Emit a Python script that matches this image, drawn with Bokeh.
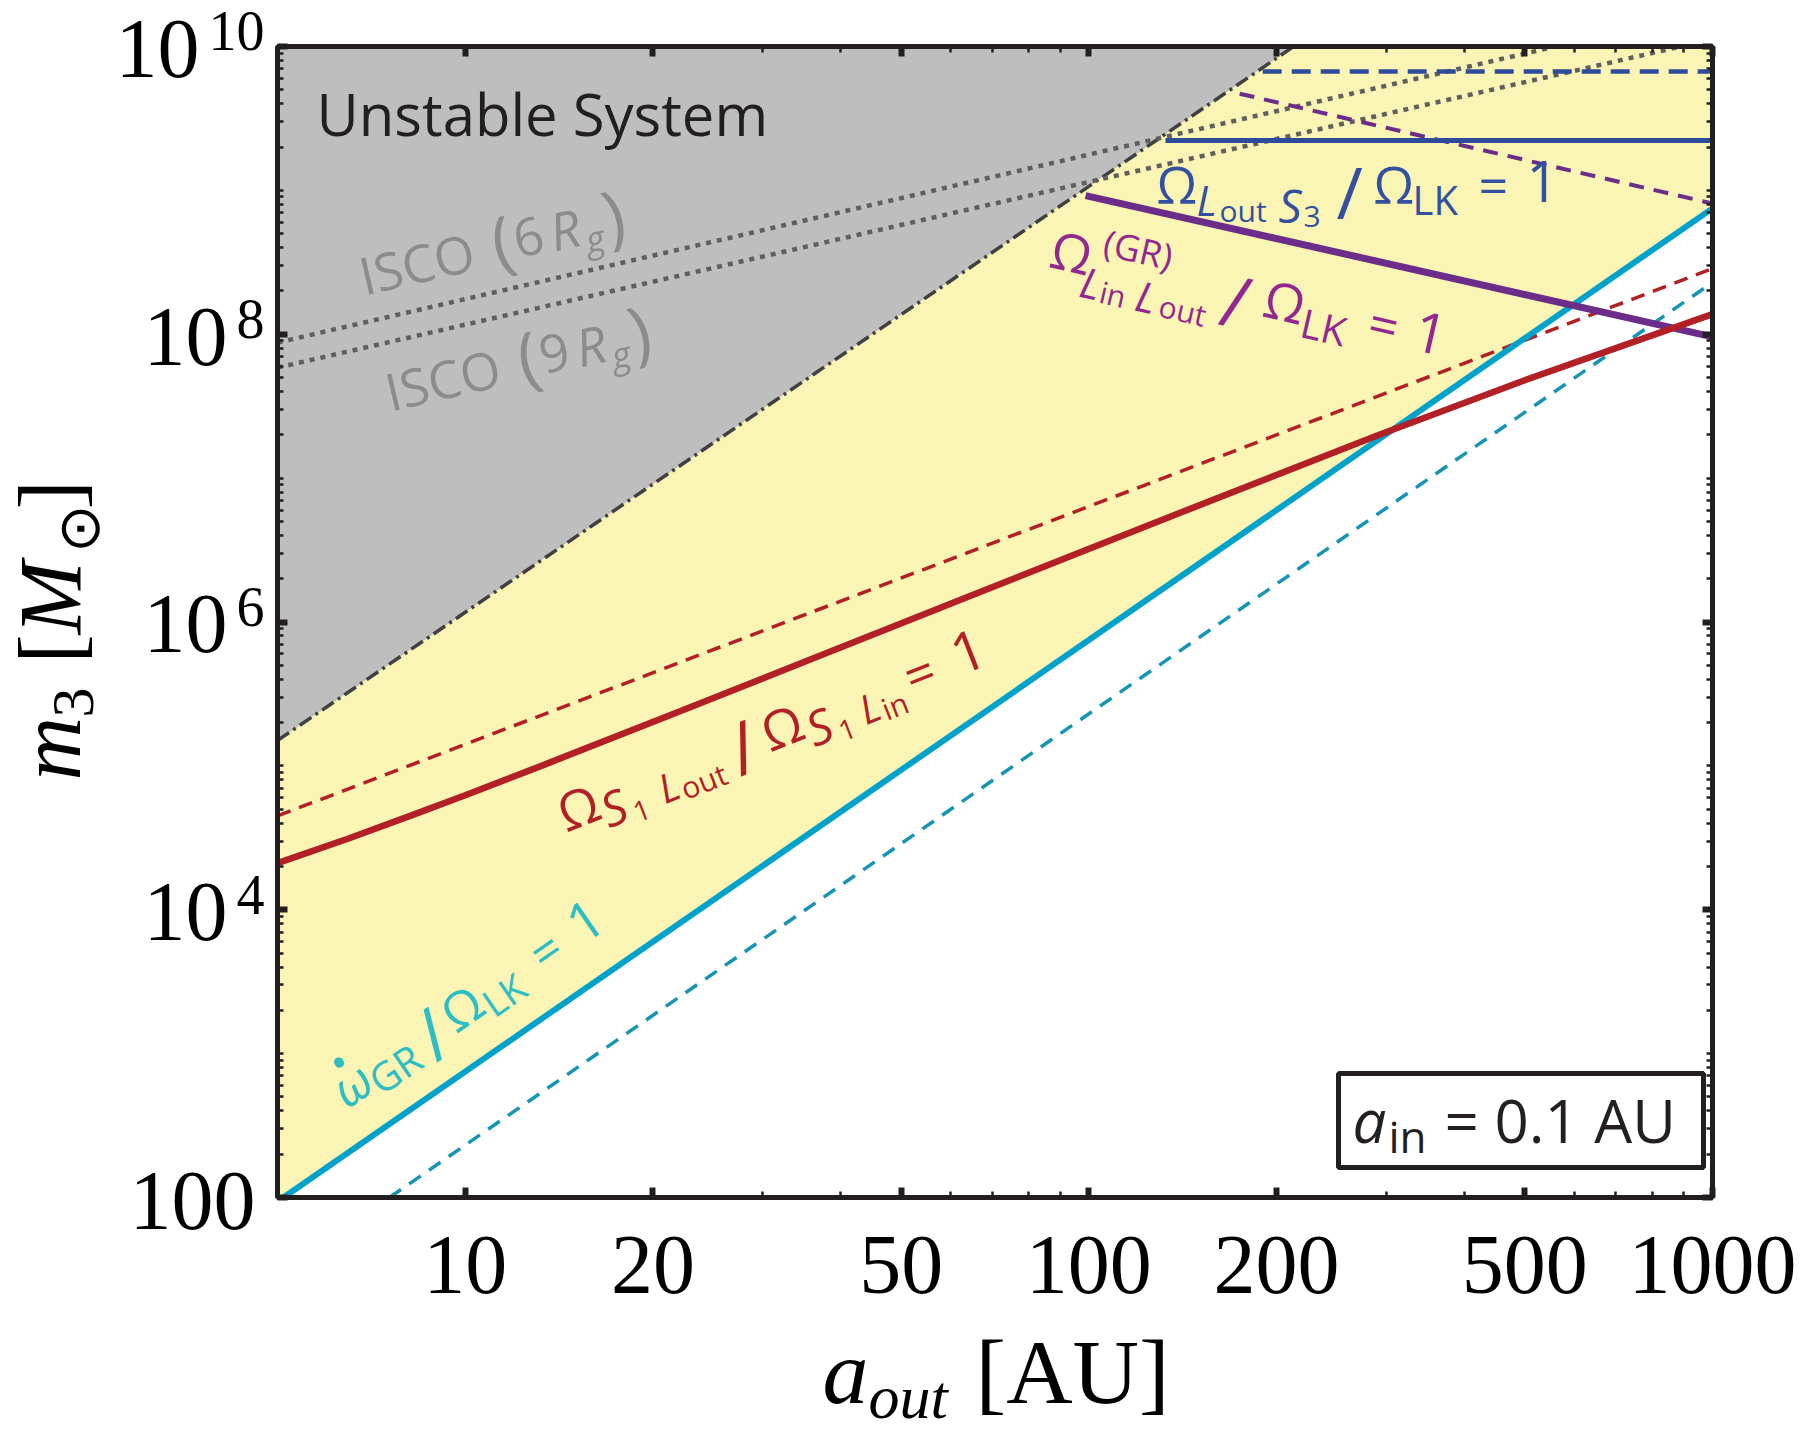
import math
from bokeh.plotting import figure
from bokeh.models import Range1d, LogAxis, FixedTicker, Label, BoxAnnotation, CustomJSTickFormatter
from bokeh.embed import file_html
from bokeh.resources import INLINE

# ---------------- values ----------------
X_TICKS = [10, 20, 50, 100, 200, 500, 1000]
X_TICK_LABELS = ["10", "20", "50", "100", "200", "500", "1000"]
X_MINOR = [30, 40, 60, 70, 80, 90, 300, 400, 600, 700, 800, 900]
Y_TICKS = [1e2, 1e4, 1e6, 1e8, 1e10]
Y_TICK_BASE = ["100", "10", "10", "10", "10"]
Y_TICK_EXP = ["", "4", "6", "8", "10"]
Y_MINOR = [k * 10 ** n for n in range(2, 10) for k in range(1, 10) if not (k == 1 and n % 2 == 0)]

# unstable-system boundary (dash-dot)
a_unstable = [5, 213]
m_unstable = [1.5e5, 1.0e10]
# ISCO lines (dotted), ending where they leave the top of the box
a_isco6 = [5, 560]
m_isco6 = [8.75e7, 1.0e10]
a_isco9 = [5, 889]
m_isco9 = [5.86e7, 1.0e10]
# omega_GR / Omega_LK = 1 (cyan)
a_gr = [5.11, 1000]
m_gr = [1.0e2, 7.5e8]
a_gr_dash = [7.56, 1000]
m_gr_dash = [1.0e2, 2.29e8]
# Omega_S1Lout / Omega_S1Lin = 1 (red)
a_s1 = [5, 6.5, 8.2, 10, 13.4, 22, 36, 66, 130, 290, 500, 1000]
m_s1 = [2.11e4, 3.13e4, 4.53e4, 6.25e4, 1.02e5, 2.38e5, 5.55e5, 1.58e6, 5.06e6, 1.98e7, 4.79e7, 1.38e8]
a_s1_dash = [5, 1000]
m_s1_dash = [4.49e4, 2.86e8]
# Omega^(GR)_LinLout / Omega_LK = 1 (purple)
a_lin = [98.8, 1000]
m_lin = [9.2e8, 9.6e7]
a_lin_dash = [174.5, 1000]
m_lin_dash = [4.7e9, 8.1e8]
# Omega_LoutS3 / Omega_LK = 1 (blue)
a_s3 = [132.7, 1000]
m_s3 = [2.22e9, 2.22e9]
a_s3_dash = [190, 1000]
m_s3_dash = [6.7e9, 6.7e9]

X_MIN, X_MAX = 5, 1000
Y_MIN, Y_MAX = 1e2, 1e10

# ---------------- styling / layout ----------------
W, H = 1803, 1433
FL, FR, FT, FB = 277, 1712, 46, 1197          # where the axes box sits on the canvas
FRAME = "#231f20"
YELLOW = "#faf5b4"
GRAY = "#bebebe"
CYAN = "#00a1cb"
CYAN_D = "#1594b5"
CYAN_T = "#2dbdc5"
RED = "#b21f24"
PURPLE = "#6b2c8a"
PURPLE_T = "#93278f"
BLUE = "#2e4b9b"
BLUE_T = "#3350a0"
DKGRAY = "#404040"
DOT = "#5f5f5f"
ISCO_T = "#8c8c8c"
SANS = "Open Sans"
SERIF = "Liberation Serif"
SHIFT = {SANS: 0.39, SERIF: 0.34}

LX0, LX1 = math.log10(X_MIN), math.log10(X_MAX)
LY0, LY1 = math.log10(Y_MIN), math.log10(Y_MAX)
PPX = (FR - FL) / (LX1 - LX0)   # px per decade
PPY = (FB - FT) / (LY1 - LY0)
XS, XE = 10 ** (LX0 - FL / PPX), 10 ** (LX1 + (W - FR) / PPX)
YS, YE = 10 ** (LY0 - (H - FB) / PPY), 10 ** (LY1 + FT / PPY)

p = figure(width=W, height=H, x_axis_type="log", y_axis_type="log",
           x_axis_location=None, y_axis_location=None,
           x_range=Range1d(XS, XE), y_range=Range1d(YS, YE),
           output_backend="svg", toolbar_location=None, min_border=0)
p.grid.visible = False
p.background_fill_color = "white"
p.border_fill_color = "white"
p.outline_line_color = None

xt = FixedTicker(ticks=X_TICKS, minor_ticks=X_MINOR)
yt = FixedTicker(ticks=Y_TICKS, minor_ticks=Y_MINOR)
for side, loc, bnds, tk in [("below", Y_MIN, (X_MIN, X_MAX), xt), ("above", Y_MAX, (X_MIN, X_MAX), xt),
                            ("left", X_MIN, (Y_MIN, Y_MAX), yt), ("right", X_MAX, (Y_MIN, Y_MAX), yt)]:
    ax = LogAxis(fixed_location=loc, bounds=bnds, ticker=tk,
                 formatter=CustomJSTickFormatter(code="return ''"))
    ax.major_label_text_font_size = "0px"
    ax.major_label_standoff = 0
    ax.major_tick_in = 10
    ax.major_tick_out = 0
    ax.major_tick_line_width = 6
    ax.major_tick_line_color = FRAME
    ax.minor_tick_in = 6
    ax.minor_tick_out = 0
    ax.minor_tick_line_width = 2.5
    ax.minor_tick_line_color = FRAME
    ax.axis_line_color = None
    p.add_layout(ax, side)

# ---------------- regions ----------------
p.patch([a_gr[0], a_gr[-1], X_MAX, X_MIN, X_MIN],
        [m_gr[0], m_gr[-1], Y_MAX, Y_MAX, Y_MIN],
        fill_color=YELLOW, line_color=None)
p.patch([a_unstable[0], a_unstable[-1], X_MIN],
        [m_unstable[0], m_unstable[-1], Y_MAX],
        fill_color=GRAY, line_color=None)

# ---------------- lines ----------------
p.line(a_unstable, m_unstable, line_color=DKGRAY, line_width=3.5, line_dash="14 5 3 5")
p.line(a_isco6, m_isco6, line_color=DOT, line_width=4.5, line_dash="5 6")
p.line(a_isco9, m_isco9, line_color=DOT, line_width=4.5, line_dash="5 6")
p.line(a_s3_dash, m_s3_dash, line_color=BLUE, line_width=4.5, line_dash="19 10")
p.line(a_lin_dash, m_lin_dash, line_color=PURPLE, line_width=4, line_dash="15 10")
p.line(a_gr_dash, m_gr_dash, line_color=CYAN_D, line_width=3.5, line_dash="14 10")
p.line(a_s1_dash, m_s1_dash, line_color=RED, line_width=3.5, line_dash="14 9")
p.line(a_gr, m_gr, line_color=CYAN, line_width=6)
p.line(a_s3, m_s3, line_color=BLUE, line_width=5)
p.line(a_lin, m_lin, line_color=PURPLE, line_width=7)
p.line(a_s1, m_s1, line_color=RED, line_width=6.5)

# axes box
p.add_layout(BoxAnnotation(left=X_MIN, right=X_MAX, bottom=Y_MIN, top=Y_MAX,
                           fill_color=None, line_color=FRAME, line_alpha=1.0, line_width=5))


# ---------------- text helpers (canvas px -> data) ----------------
def dx(X):
    return 10 ** (LX0 + (X - FL) / PPX)


def dy(Y):
    return 10 ** (LY1 - (Y - FT) / PPY)


def py(v):
    return FT + (LY1 - math.log10(v)) * PPY


def put(text, X, Y, size, color, font=SANS, style="normal", angle=0.0, align="left"):
    s = SHIFT[font] * size
    X, Y = X - s * math.sin(angle), Y - s * math.cos(angle)
    p.add_layout(Label(x=dx(X), y=dy(Y), text=text, text_font=font,
                       text_font_size=f"{size}px", text_font_style=style,
                       text_color=color, angle=angle, text_align=align,
                       text_baseline="alphabetic"))


def run(X0, Y0, deg, parts, color, font=SANS):
    t = math.radians(deg)
    for txt, d, h, size, style in parts:
        X = X0 + d * math.cos(t) - h * math.sin(t)
        Y = Y0 - d * math.sin(t) - h * math.cos(t)
        put(txt, X, Y, size, color, font, style, t)


N, I = "normal", "italic"

# tick labels
for v, lab in zip(X_TICKS, X_TICK_LABELS):
    put(lab, FL + (math.log10(v) - LX0) * PPX, 1293, 84, "black", SERIF, align="center")
for v, base, ex in zip(Y_TICKS, Y_TICK_BASE, Y_TICK_EXP):
    Yt = py(v)
    if ex:
        put(ex, 264, Yt + 4, 56, "black", SERIF, align="right")
        put(base, 264 - 28 * len(ex) - 9, Yt + 31, 84, "black", SERIF, align="right")
    else:
        put(base, 255, Yt + 32, 84, "black", SERIF, align="right")

# axis titles
put("a", 822, 1403, 92, "black", SERIF, I)
put("out", 868, 1418, 62, "black", SERIF, I)
put("[AU]", 975, 1403, 92, "black", SERIF)
run(80, 780, 90, [("m", 0, 0, 88, I), ("3", 63, -13, 60, N), ("[", 117, 0, 88, N),
                  ("M", 146, 0, 88, I), ("⊙", 228, -19, 58, N), ("]", 271, 0, 88, N)],
    "black", SERIF)

# in-plot labels
put("Unstable System", 316, 136, 58, FRAME)

isco_parts = lambda n: [("ISCO", 0, 0, 52, N), ("(", 136, -4, 70, N), (n, 158, 0, 52, N),
                        ("R", 195, 0, 52, I), ("g", 228, -10, 36, I), (")", 250, -4, 70, N)]
run(364, 295, 13, isco_parts("6"), ISCO_T)
run(390, 411, 13, isco_parts("9"), ISCO_T)

run(1156, 203, 0, [("Ω", 0, 0, 52, N), ("L", 40, -12, 42, I), ("out", 63, -19, 30, N),
                   ("S", 122, -19, 46, I), ("3", 147, -25, 30, N), ("/", 180, -16, 72, N),
                   ("Ω", 217, 0, 52, N), ("LK", 256, -12, 40, N), ("=", 322, 0, 52, N),
                   ("1", 370, 0, 56, N)], BLUE_T)

run(1047, 266, -13, [("Ω", 0, 0, 52, N), ("(GR)", 50, 23, 36, N), ("L", 36, -22, 42, I),
                     ("in", 57, -24, 30, N), ("L", 93, -23, 42, I), ("out", 118, -24, 30, N),
                     ("/", 178, -18, 72, N), ("Ω", 219, 0, 52, N), ("LK", 260, -12, 40, N),
                     ("=", 326, 0, 52, N), ("1", 372, 0, 56, N)], PURPLE_T)

run(566, 832, 21.5, [("Ω", 0, 0, 52, N), ("S", 41, -12, 48, I), ("1", 70, -18, 28, N),
                     ("L", 102, -10, 40, I), ("out", 123, -14, 30, N), ("/", 182, -12, 72, N),
                     ("Ω", 219, 0, 52, N), ("S", 262, -12, 48, I), ("1", 291, -18, 28, N),
                     ("L", 318, -10, 40, I), ("in", 339, -14, 30, N), ("=", 372, 0, 52, N),
                     ("1", 424, 0, 56, N)], RED)

run(347, 1110, 34.7, [("•", 12, 28, 44, N), ("ω", 0, 0, 50, I), ("GR", 36, -8, 40, N),
                      ("/", 100, -12, 72, N), ("Ω", 133, 0, 50, N), ("LK", 173, -8, 38, N),
                      ("=", 240, 0, 50, N), ("1", 288, 0, 54, N)], CYAN_T)

# a_in box
p.add_layout(BoxAnnotation(left=dx(1338), right=dx(1703), top=dy(1073), bottom=dy(1167),
                           fill_color="white", fill_alpha=1.0, line_color=FRAME,
                           line_alpha=1.0, line_width=5))
put("a", 1352, 1143, 60, FRAME, SANS, I)
put("in", 1388, 1153, 44, FRAME)
put("= 0.1 AU", 1444, 1143, 60, FRAME)

open("out.html", "w").write(file_html(p, INLINE))
